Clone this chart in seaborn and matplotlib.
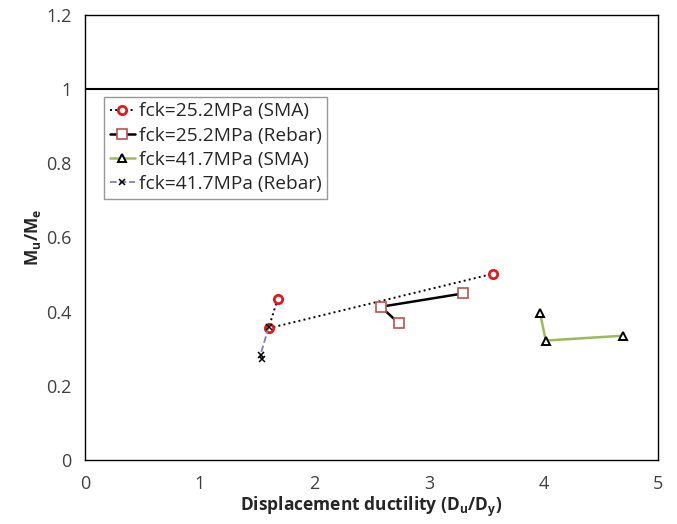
import matplotlib
matplotlib.use("Agg")
import matplotlib.pyplot as plt
import pandas as pd
import seaborn as sns

sns.set_theme(style="white")
plt.rcParams["font.family"] = ["Open Sans", "DejaVu Sans"]
plt.rcParams["mathtext.fontset"] = "custom"
plt.rcParams["mathtext.rm"] = "Open Sans"
plt.rcParams["mathtext.bf"] = "Open Sans:bold"

# series data (displacement ductility, Mu/Me)
sma25_x = [1.68, 1.60, 3.56]
sma25_y = [0.435, 0.355, 0.502]
rebar25_x = [3.30, 2.58, 2.74]
rebar25_y = [0.449, 0.413, 0.368]
sma41_x = [3.97, 4.02, 4.69]
sma41_y = [0.396, 0.322, 0.335]
rebar41_x = [1.60, 1.53, 1.54]
rebar41_y = [0.358, 0.284, 0.273]

labels = ["fck=25.2MPa (SMA)", "fck=25.2MPa (Rebar)",
          "fck=41.7MPa (SMA)", "fck=41.7MPa (Rebar)"]

styles = [
    dict(color="black", ls=":", marker="o", mec="#e3191c", mfc="white", ms=6, mew=2.0, lw=1.4),
    dict(color="black", ls="-", marker="s", mec="#c0504d", mfc="white", ms=6.5, mew=1.2, lw=1.8),
    dict(color="#9bbb59", ls="-", marker="^", mec="black", mfc="white", ms=6, mew=1.4, lw=1.8),
    dict(color="#8a7bb8", ls="--", marker="x", mec="black", ms=5, mew=1.1, lw=1.3),
]

fig, ax = plt.subplots(figsize=(6.77, 5.24), dpi=100)
fig.subplots_adjust(left=0.126, right=0.972, top=0.972, bottom=0.122)

series = [(sma25_x, sma25_y), (rebar25_x, rebar25_y),
          (sma41_x, sma41_y), (rebar41_x, rebar41_y)]
for (xs, ys), lab, st in zip(series, labels, styles):
    df = pd.DataFrame({"x": xs, "y": ys})
    sns.lineplot(data=df, x="x", y="y", sort=False, ax=ax, label=lab,
                 color=st["color"], linestyle=st["ls"], linewidth=st["lw"],
                 marker=st["marker"], markeredgecolor=st["mec"],
                 markerfacecolor=st.get("mfc", "none"), markersize=st["ms"],
                 markeredgewidth=st["mew"])

ax.axhline(1.0, color="black", lw=1.5)

ax.set_xlim(0, 5)
ax.set_ylim(0, 1.2)
ax.set_xticks([0, 1, 2, 3, 4, 5])
ax.set_yticks([0, 0.2, 0.4, 0.6, 0.8, 1.0, 1.2])
ax.set_yticklabels(["0", "0.2", "0.4", "0.6", "0.8", "1", "1.2"])
ax.tick_params(direction="in", length=5, width=1, colors="black",
               labelsize=13, labelcolor="#404040", pad=10)
ax.tick_params(axis="x", pad=11)
for s in ax.spines.values():
    s.set_color("black")
    s.set_linewidth(1)

ax.set_xlabel(r"Displacement ductility (D$_\mathbf{u}$/D$_\mathbf{y}$)",
              fontsize=12.5, fontweight="bold", color="#262626", labelpad=1)
ax.set_ylabel(r"M$_\mathbf{u}$/M$_\mathbf{e}$", fontsize=12.5,
              fontweight="bold", color="#262626", labelpad=2)

leg = ax.legend(loc="upper left", bbox_to_anchor=(0.033, 0.816), fontsize=13.8,
                frameon=True, fancybox=False, edgecolor="#7f7f7f",
                handlelength=1.3, handletextpad=0.2, borderpad=0.3,
                labelspacing=0.32, borderaxespad=0)
leg.get_frame().set_linewidth(1)
for t in leg.get_texts():
    t.set_color("#262626")

fig.savefig("out.png", dpi=100)
